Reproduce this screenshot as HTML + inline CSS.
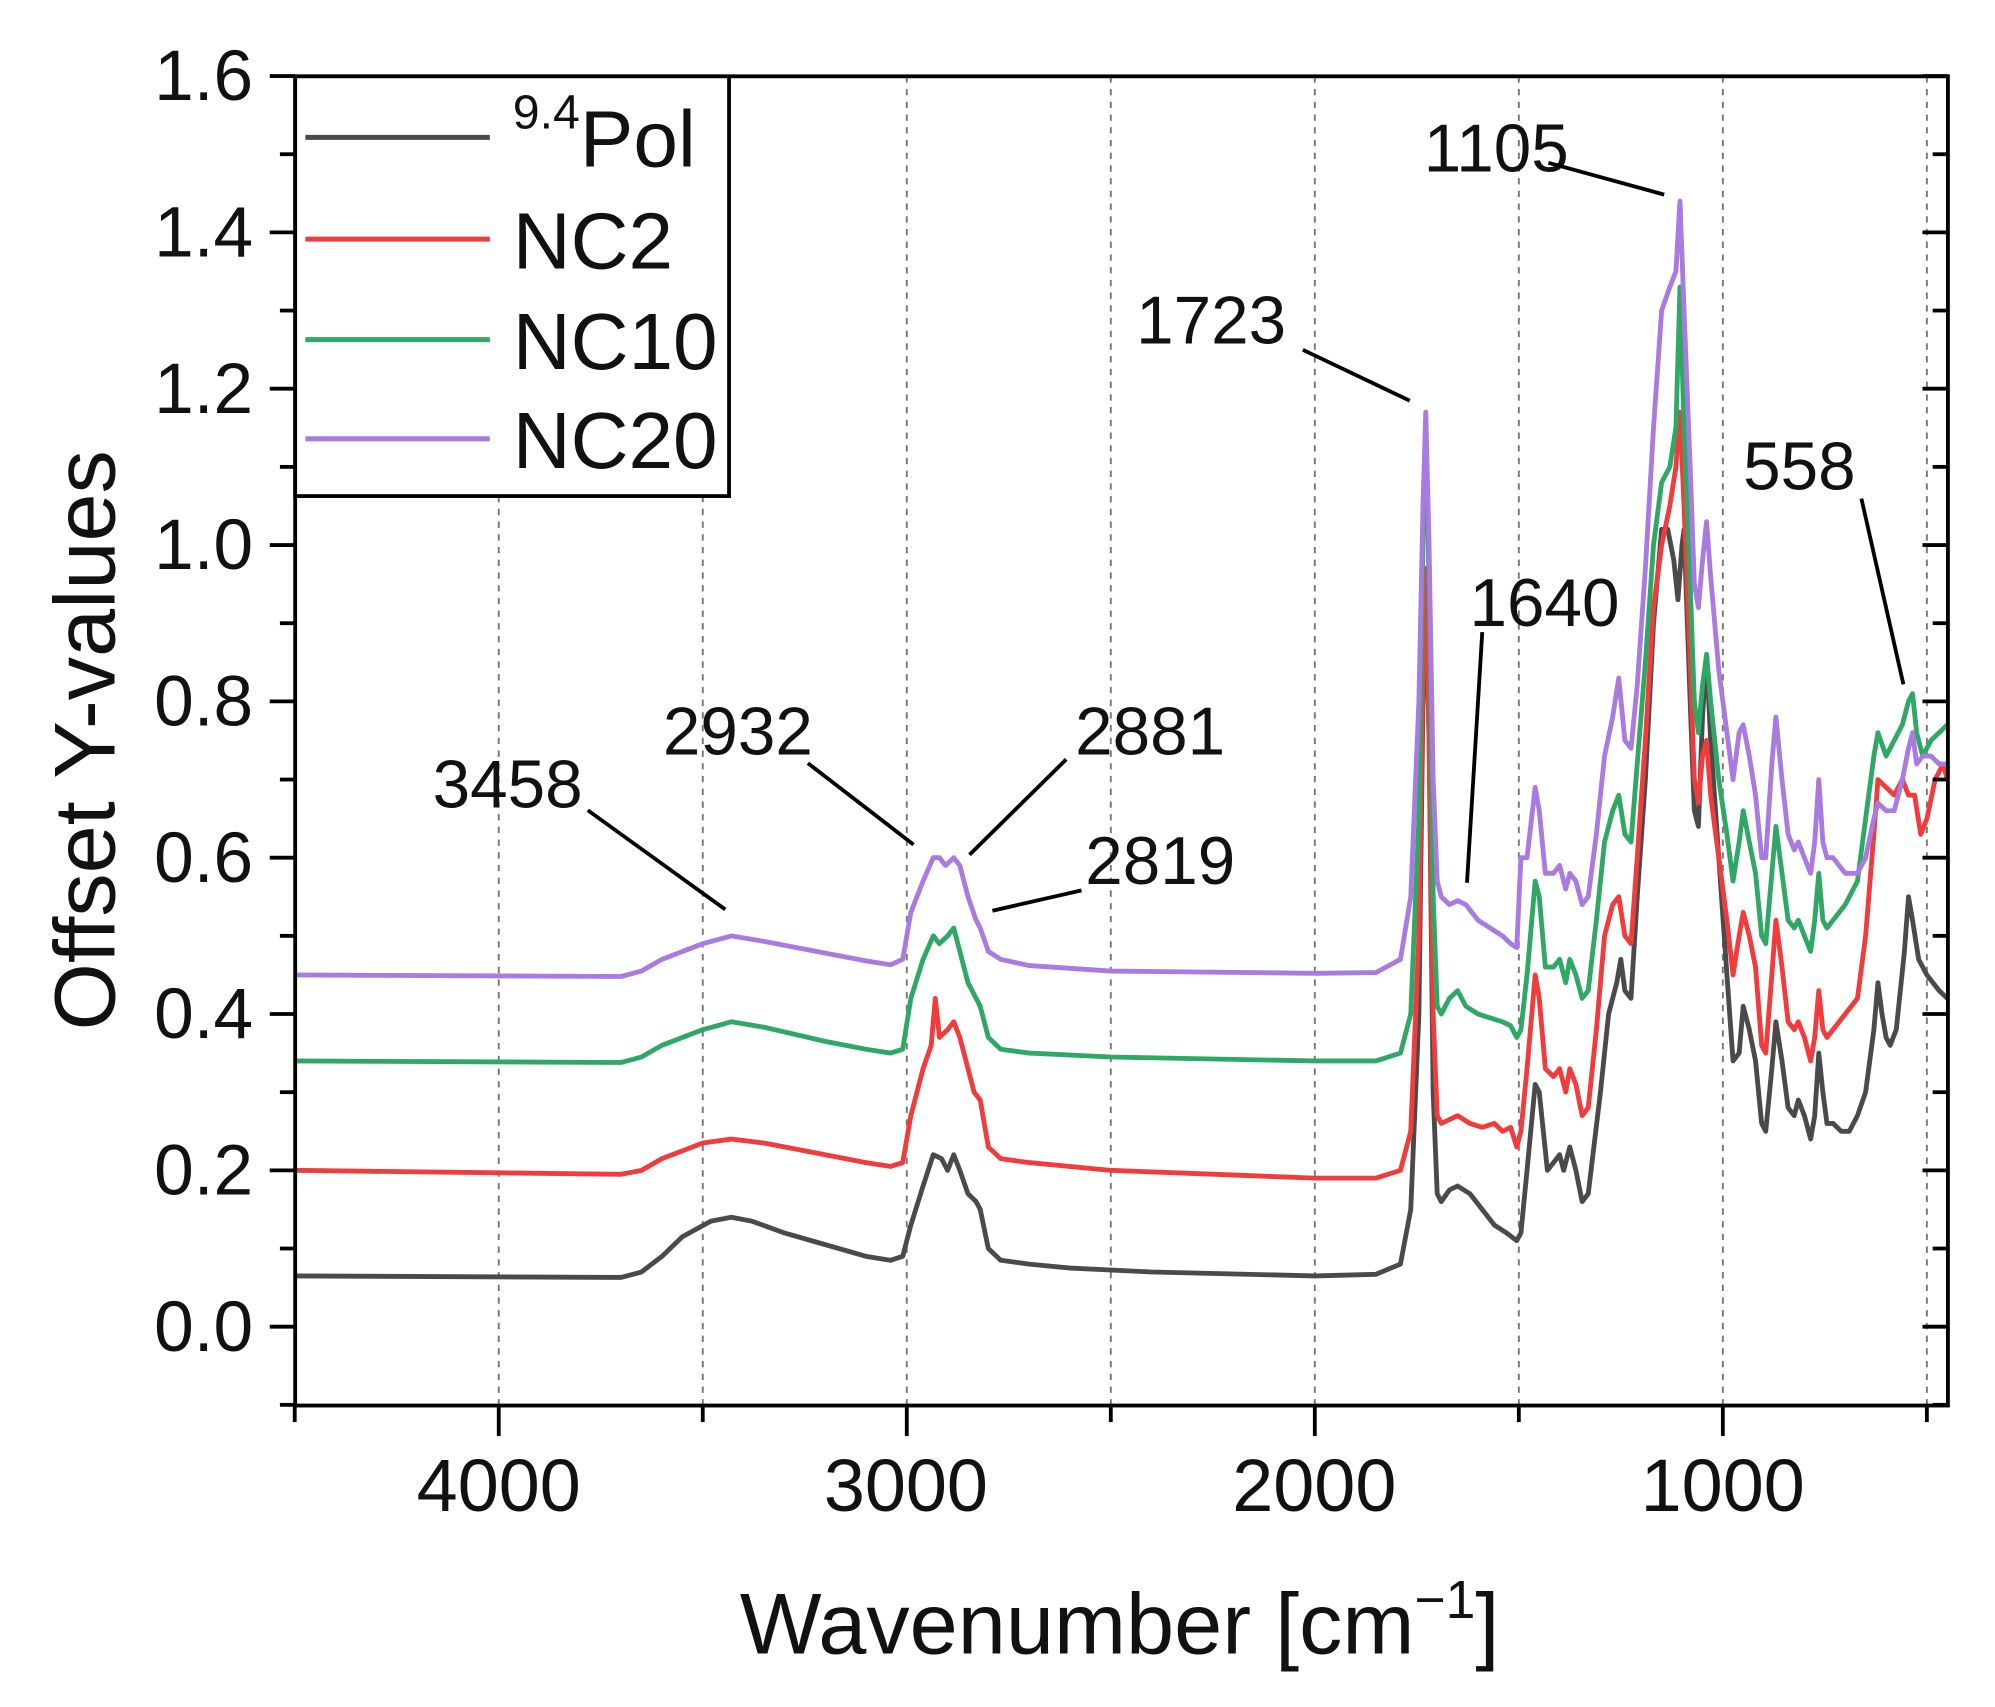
<!DOCTYPE html>
<html><head><meta charset="utf-8"><style>
html,body{margin:0;padding:0;background:#fff;}
svg{display:block;}
text{font-family:"Liberation Sans",Arial,sans-serif;fill:#111;}
</style></head><body>
<svg id="s" width="1995" height="1707" viewBox="0 0 1568 1342" preserveAspectRatio="none" xmlns="http://www.w3.org/2000/svg">
<g id="grid" stroke="#777" stroke-width="1.5" stroke-dasharray="5,5"></g>
<g id="series" fill="none" stroke-width="3.8" stroke-linejoin="round"></g>
<g id="ticks" stroke="#000" stroke-width="3"></g>
<rect x="232" y="60" width="1299" height="1045" fill="none" stroke="#000" stroke-width="3"/>
<g font-size="56" text-anchor="end" id="ylab"></g>
<g font-size="58" text-anchor="middle">
<text x="392" y="1188">4000</text><text x="712" y="1188">3000</text><text x="1033" y="1188">2000</text><text x="1354" y="1188">1000</text>
</g>
<text x="880" y="1300" font-size="68" text-anchor="middle">Wavenumber [cm<tspan font-size="42" dy="-28">−1</tspan><tspan dy="28">]</tspan></text>
<text transform="translate(90,582) rotate(-90)" font-size="68" text-anchor="middle">Offset Y-values</text>
<!-- legend -->
<rect x="232" y="60" width="341" height="330" fill="#fff" stroke="#000" stroke-width="3"/>
<line x1="240" y1="108" x2="385" y2="108" stroke="#4a4a4a" stroke-width="4"/>
<line x1="240" y1="188" x2="385" y2="188" stroke="#f03c3c" stroke-width="4"/>
<line x1="240" y1="267" x2="385" y2="267" stroke="#2fa866" stroke-width="4"/>
<line x1="240" y1="345" x2="385" y2="345" stroke="#a97ae0" stroke-width="4"/>
<g font-size="63">
<text x="403" y="131"><tspan font-size="38" dy="-30">9.4</tspan><tspan dy="30">Pol</tspan></text>
<text x="403" y="211">NC2</text>
<text x="403" y="290">NC10</text>
<text x="403" y="368">NC20</text>
</g>
<!-- annotations -->
<g font-size="53">
<text x="340" y="635">3458</text>
<text x="521" y="593">2932</text>
<text x="845" y="593">2881</text>
<text x="853" y="695">2819</text>
<text x="893" y="270">1723</text>
<text x="1155" y="492">1640</text>
<text x="1119" y="135">1105</text>
<text x="1370" y="385">558</text>
</g>
<g stroke="#000" stroke-width="3">
<line x1="462" y1="637" x2="570" y2="715"/>
<line x1="635" y1="600" x2="718" y2="664"/>
<line x1="838" y1="597" x2="762" y2="672"/>
<line x1="850" y1="700" x2="780" y2="716"/>
<line x1="1024" y1="275" x2="1108" y2="315"/>
<line x1="1165" y1="497" x2="1153" y2="694"/>
<line x1="1217" y1="128" x2="1308" y2="153"/>
<line x1="1463" y1="392" x2="1496" y2="538"/>
</g>
</svg>
<script>
var NS="http://www.w3.org/2000/svg";
function X(w){return 392+(4000-w)*0.3207;}
function Y(v){return 1043-v*614.5;}
function el(p,t,a){var e=document.createElementNS(NS,t);for(var k in a)e.setAttribute(k,a[k]);p.appendChild(e);return e;}
var grid=document.getElementById('grid');
[4000,3500,3000,2500,2000,1500,1000,500].forEach(function(w){el(grid,'line',{x1:X(w),x2:X(w),y1:60,y2:1105});});
var tk=document.getElementById('ticks');
for(var i=-1;i<=16;i++){var v=i/10,y=Y(v),maj=(i%2==0);
 el(tk,'line',{x1:232-(maj?20:12),x2:232,y1:y,y2:y});
 el(tk,'line',{x1:1531-(maj?20:12),x2:1531,y1:y,y2:y});}
var yl=document.getElementById('ylab');
for(var i=0;i<=8;i++){var v=i*0.2;var t=el(yl,'text',{x:199,y:Y(v)+19});t.textContent=v.toFixed(1);}
for(var w=4500;w>=500;w-=500){var big=(w%1000==0);el(tk,'line',{x1:X(w),x2:X(w),y1:1105,y2:1105+(big?24:13)});}
var D={
"#4a4a4a":[4500,.065,3700,.063,3650,.07,3600,.09,3550,.115,3480,.135,3430,.14,3380,.135,3300,.12,3200,.105,3100,.09,3040,.085,3010,.09,2990,.13,2960,.18,2935,.22,2915,.215,2900,.2,2885,.22,2870,.2,2850,.17,2830,.16,2820,.15,2800,.1,2770,.085,2700,.08,2600,.075,2400,.07,2000,.065,1850,.067,1790,.08,1765,.15,1745,.4,1735,.8,1728,.94,1720,.75,1710,.3,1700,.17,1690,.16,1670,.175,1650,.18,1620,.17,1590,.15,1560,.13,1530,.12,1505,.11,1495,.12,1480,.2,1460,.31,1450,.3,1430,.2,1415,.21,1400,.22,1390,.2,1375,.23,1360,.2,1345,.16,1330,.17,1300,.3,1280,.4,1260,.44,1250,.47,1240,.43,1225,.42,1210,.55,1190,.7,1170,.9,1150,1.02,1135,1.02,1120,.98,1110,.93,1100,1.0,1095,1.02,1080,.8,1070,.66,1060,.64,1050,.78,1040,.86,1030,.75,1010,.6,990,.45,975,.34,960,.35,950,.41,935,.38,920,.34,905,.26,895,.25,880,.33,870,.39,855,.34,840,.28,825,.27,815,.29,800,.27,785,.24,775,.27,765,.35,755,.3,745,.26,730,.26,710,.25,690,.25,670,.27,650,.3,630,.38,620,.44,610,.4,600,.37,590,.36,575,.38,555,.48,545,.55,535,.52,520,.47,500,.45,470,.43,450,.42],
"#f03c3c":[4500,.2,3700,.195,3650,.2,3600,.215,3500,.235,3430,.24,3350,.235,3200,.22,3100,.21,3040,.205,3010,.21,2990,.27,2960,.33,2940,.36,2930,.42,2920,.37,2900,.38,2885,.39,2870,.37,2850,.33,2835,.3,2820,.29,2800,.23,2770,.215,2700,.21,2500,.2,2000,.19,1850,.19,1790,.2,1765,.25,1745,.5,1735,.85,1728,.97,1720,.75,1710,.4,1700,.27,1690,.26,1670,.265,1650,.27,1620,.26,1590,.255,1560,.26,1540,.25,1520,.255,1505,.23,1495,.25,1480,.33,1460,.45,1450,.42,1435,.33,1415,.32,1400,.33,1385,.3,1375,.33,1360,.31,1345,.27,1330,.28,1310,.38,1290,.5,1270,.54,1255,.55,1240,.5,1225,.49,1210,.6,1190,.75,1170,.92,1150,1.0,1130,1.05,1115,1.1,1105,1.17,1095,1.05,1080,.85,1070,.7,1060,.67,1050,.73,1040,.75,1030,.68,1010,.6,990,.52,975,.45,960,.5,950,.53,935,.5,920,.46,905,.36,895,.35,880,.45,870,.52,855,.46,840,.39,825,.38,815,.39,800,.37,785,.34,775,.37,765,.43,755,.38,745,.37,730,.38,700,.4,670,.42,650,.5,630,.63,620,.7,600,.69,580,.68,560,.7,545,.68,530,.68,515,.63,500,.65,480,.7,460,.72,450,.7],
"#2fa866":[4500,.34,3700,.338,3650,.345,3600,.36,3500,.38,3430,.39,3350,.383,3200,.365,3100,.355,3040,.35,3010,.355,2990,.42,2960,.47,2935,.5,2920,.49,2900,.5,2885,.51,2870,.48,2850,.44,2830,.42,2820,.41,2800,.37,2770,.355,2700,.35,2500,.345,2000,.34,1850,.34,1790,.35,1765,.4,1745,.65,1735,1.0,1728,1.16,1720,.95,1710,.55,1700,.41,1690,.4,1670,.42,1650,.43,1630,.41,1600,.4,1570,.395,1540,.39,1520,.385,1505,.37,1495,.38,1480,.45,1460,.57,1450,.55,1435,.46,1415,.46,1400,.47,1385,.44,1375,.47,1360,.45,1345,.42,1330,.43,1310,.52,1290,.62,1270,.66,1255,.68,1240,.63,1225,.62,1210,.72,1190,.85,1170,1.0,1150,1.08,1130,1.1,1115,1.15,1105,1.33,1095,1.15,1080,.95,1070,.8,1060,.76,1050,.82,1040,.86,1030,.8,1010,.7,990,.63,975,.57,960,.62,950,.66,935,.62,920,.58,905,.5,895,.49,880,.58,870,.64,855,.58,840,.52,825,.51,815,.52,800,.5,785,.48,775,.52,765,.58,755,.52,745,.51,730,.52,700,.54,670,.57,650,.65,630,.73,620,.76,600,.73,580,.75,560,.77,545,.8,535,.81,525,.76,510,.73,490,.75,470,.76,450,.77],
"#a97ae0":[4500,.45,3700,.448,3650,.455,3600,.47,3500,.49,3430,.5,3350,.493,3200,.478,3100,.468,3040,.463,3010,.47,2990,.53,2960,.57,2935,.6,2920,.6,2905,.59,2885,.6,2870,.59,2850,.55,2830,.52,2820,.51,2800,.48,2770,.47,2700,.462,2500,.455,2000,.452,1850,.453,1790,.47,1765,.55,1745,.8,1735,1.05,1728,1.17,1720,1.0,1710,.7,1700,.57,1690,.55,1670,.54,1650,.545,1630,.54,1600,.52,1570,.51,1540,.5,1520,.49,1505,.485,1495,.6,1480,.6,1460,.69,1450,.66,1435,.58,1415,.58,1400,.59,1385,.56,1375,.58,1360,.57,1345,.54,1330,.55,1310,.63,1290,.73,1270,.78,1255,.83,1240,.75,1225,.74,1210,.82,1190,.97,1170,1.15,1150,1.3,1130,1.33,1115,1.35,1105,1.44,1095,1.3,1080,1.1,1070,.95,1060,.92,1050,.98,1040,1.03,1030,.96,1010,.84,990,.76,975,.7,960,.76,950,.77,935,.73,920,.68,905,.6,895,.6,880,.72,870,.78,855,.7,840,.63,825,.61,815,.62,800,.6,785,.58,775,.62,765,.7,755,.62,745,.6,730,.6,700,.58,670,.58,650,.6,630,.65,620,.67,600,.66,580,.66,560,.7,545,.74,535,.76,525,.72,510,.73,490,.73,470,.72,450,.72]
};
var sg=document.getElementById('series');
Object.keys(D).forEach(function(c){var a=D[c],p=[];for(var i=0;i<a.length;i+=2){var x=X(a[i]);if(x>1531)x=1531;p.push(x.toFixed(1)+','+Y(a[i+1]).toFixed(1));}
 el(sg,'polyline',{points:p.join(' '),stroke:c});});
</script>
</body></html>
